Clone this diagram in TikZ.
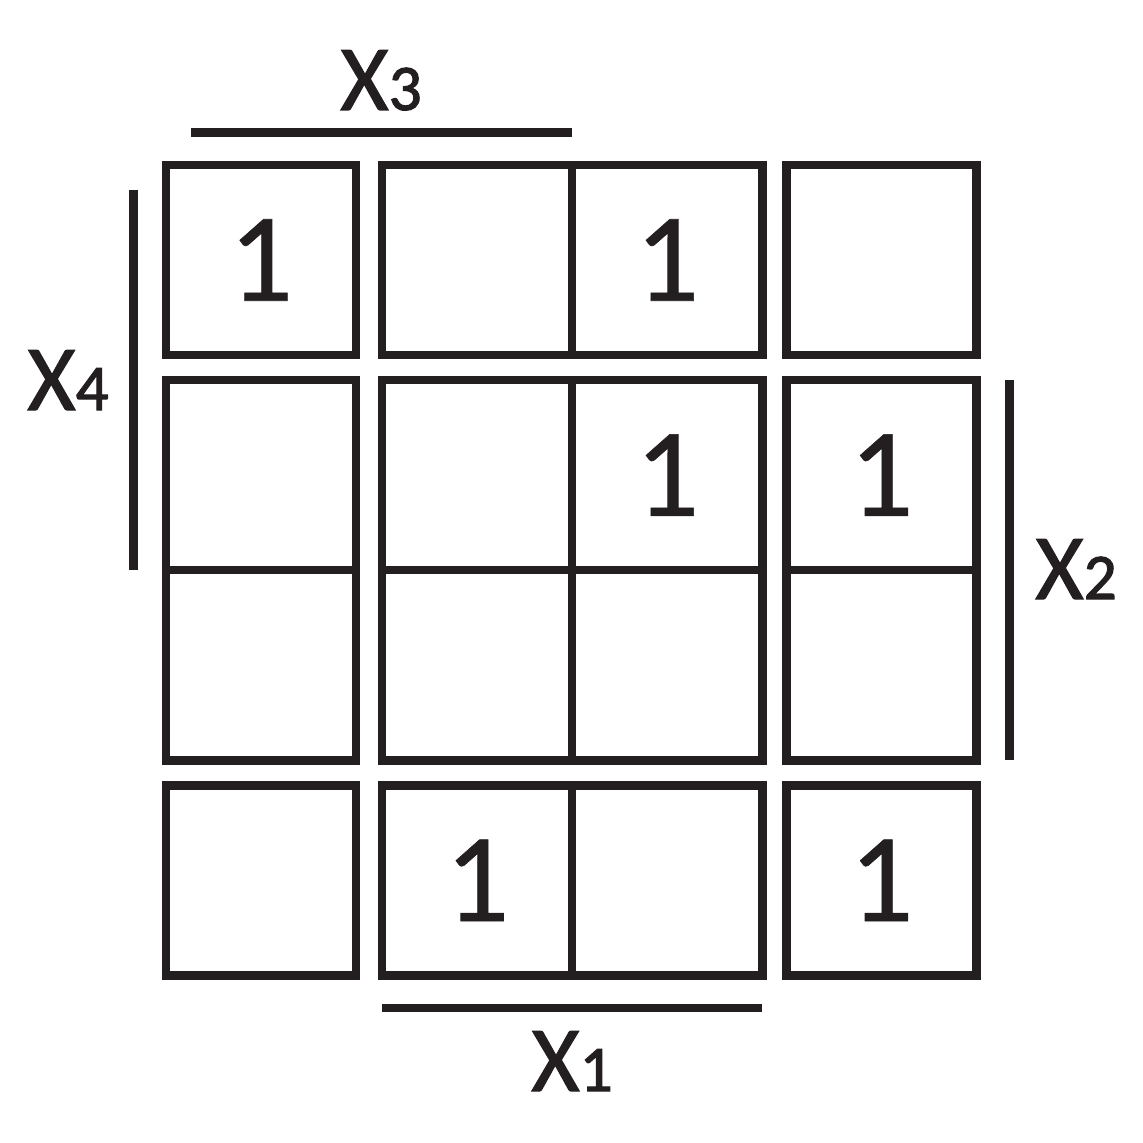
\documentclass[tikz,border=0pt]{standalone}
\usepackage{fontspec}
\setmainfont{Carlito}
\newfontfamily\cellfont[FakeBold=0.5]{Carlito}
\newfontfamily\varfont[FakeBold=1.2]{Carlito}
\newfontfamily\subfont[FakeBold=1.8]{Carlito}
\usetikzlibrary{positioning}
\definecolor{kblack}{HTML}{231F20}
\tikzstyle{cell} = [rectangle, draw = kblack, line width = 2.4pt, minimum width = 1.9cm, minimum height = 1.9cm, inner sep = 0pt, outer sep = 0pt, text = kblack, font = \cellfont\fontsize{36}{36}\selectfont]
\tikzstyle{var} = [inner sep = 0pt, text = kblack, font = \varfont\fontsize{26.5}{28}\selectfont]
\tikzstyle{bar} = [draw = kblack, line width = 2.4pt]
\newcommand{\sub}[1]{{\subfont\fontsize{18.5}{20}\selectfont #1}}

\begin{document}
\begin{tikzpicture}[x=0.01cm, y=-0.01cm]
  \useasboundingbox (0,0) rectangle (1143,1143);
  \node (c11) [cell] at (261,260) {1};
  \node (c12) [cell, right= 0.26cm of c11] {};
  \node (c13) [cell, right= 0cm of c12] {1};
  \node (c14) [cell, right= 0.24cm of c13] {};
  \node (c21) [cell, below= 0.25cm of c11] {};
  \node (c22) [cell, right= 0.26cm of c21] {};
  \node (c23) [cell, right= 0cm of c22] {1};
  \node (c24) [cell, right= 0.24cm of c23] {1};
  \node (c31) [cell, below= 0cm of c21] {};
  \node (c32) [cell, right= 0.26cm of c31] {};
  \node (c33) [cell, right= 0cm of c32] {};
  \node (c34) [cell, right= 0.24cm of c33] {};
  \node (c41) [cell, below= 0.25cm of c31] {};
  \node (c42) [cell, right= 0.26cm of c41] {1};
  \node (c43) [cell, right= 0cm of c42] {};
  \node (c44) [cell, right= 0.24cm of c43] {1};
  % variable bars
  \coordinate (b3a) at ([xshift=0.25cm, yshift=0.325cm]c11.north west);
  \coordinate (b3b) at ([yshift=0.325cm]c12.north east);
  \coordinate (b4a) at ([xshift=-0.325cm, yshift=-0.25cm]c11.north west);
  \coordinate (b4b) at ([xshift=-0.325cm]c21.south west);
  \coordinate (b2a) at ([xshift=0.33cm]c24.north east);
  \coordinate (b2b) at ([xshift=0.33cm]c34.south east);
  \coordinate (b1a) at ([yshift=-0.325cm]c42.south west);
  \coordinate (b1b) at ([yshift=-0.325cm]c43.south east);
  \draw [bar] (b3a) -- (b3b);
  \draw [bar] (b4a) -- (b4b);
  \draw [bar] (b2a) -- (b2b);
  \draw [bar] (b1a) -- (b1b);
  \node (x3) [var, anchor=base] at (381,110) {X\sub{3}};
  \node (x4) [var, anchor=base] at (68,410) {X\sub{4}};
  \node (x2) [var, anchor=base] at (1076,599) {X\sub{2}};
  \node (x1) [var, anchor=base] at (572,1091) {X\sub{1}};
\end{tikzpicture}
\end{document}
